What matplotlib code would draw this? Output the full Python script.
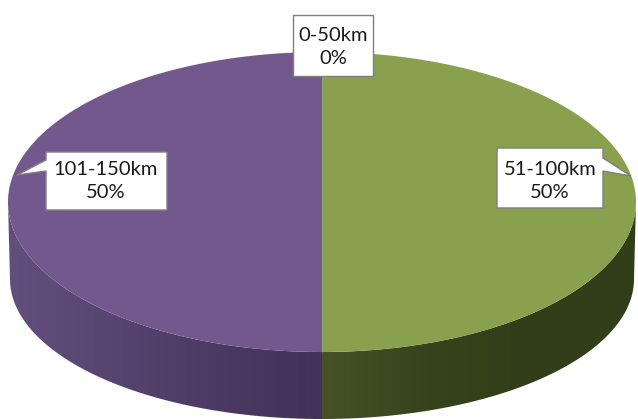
import numpy as np
import matplotlib
matplotlib.use("Agg")
import matplotlib.pyplot as plt
from matplotlib.patches import Polygon
from matplotlib.colors import to_rgb

# Distance bands and their counts
categories = ["0-50km", "51-100km", "101-150km"]
values = [0, 50, 50]

top_colors = ["#4f81bd", "#89a14e", "#72588c"]
# side gradient stops, left -> right
side_colors = [
    ["#3a5f8c", "#2c4a6e"],
    ["#465226", "#37431c", "#323e19", "#323e19"],
    ["#634f7d", "#574470", "#4b3a63", "#423258"],
]

W, H = 638, 419
fig = plt.figure(figsize=(W / 100, H / 100), dpi=100)
ax = fig.add_axes([0, 0, 1, 1])
ax.set_xlim(0, W)
ax.set_ylim(H, 0)
ax.axis("off")

# Ellipse geometry of the tilted disc (pixel units)
CX, CY, A, B = 322, 202, 314, 150          # top face
CY2, A2, B2 = 279, 312, 140                # bottom rim


def top_pt(t):
    t = np.radians(t)
    return CX + A * np.cos(t), CY - B * np.sin(t)


def bot_pt(t):
    t = np.radians(t)
    return CX + A2 * np.cos(t), CY2 - B2 * np.sin(t)


total = float(sum(values))
spans = []
start = 90.0
for v in values:
    end = start - 360.0 * v / total
    spans.append((end, start))
    start = end

# Side walls (front half only)
for (lo, hi), cols in zip(spans, side_colors):
    if hi - lo <= 0:
        continue
    for k in range(-2, 3):
        s0 = max(lo, 180 + 360 * k)
        s1 = min(hi, 360 + 360 * k)
        if s1 <= s0:
            continue
        ts = np.linspace(s0, s1, 200)
        tx, ty = top_pt(ts)
        bx, by = bot_pt(ts[::-1])
        xs = np.concatenate([tx, bx])
        ys = np.concatenate([ty, by])
        poly = Polygon(np.column_stack([xs, ys]), closed=True,
                       facecolor="none", edgecolor="none")
        ax.add_patch(poly)
        x0, x1 = xs.min(), xs.max()
        rgb = np.array([to_rgb(c) for c in cols])
        n = 256
        pos = np.linspace(0, 1, len(cols))
        u = np.linspace(0, 1, n)
        grad = np.stack([np.interp(u, pos, rgb[:, j]) for j in range(3)], axis=-1)
        im = ax.imshow(grad[np.newaxis, :, :], extent=(x0, x1, ys.max(), ys.min()),
                       aspect="auto", interpolation="bilinear", zorder=1)
        im.set_clip_path(poly)

# Top faces
for (lo, hi), col in zip(spans, top_colors):
    if hi - lo <= 0:
        continue
    ts = np.linspace(hi, lo, 400)
    tx, ty = top_pt(ts)
    pts = np.column_stack([np.r_[CX, tx], np.r_[CY, ty]])
    ax.add_patch(Polygon(pts, closed=True, facecolor=col, edgecolor="none", zorder=2))

# Faint seam where the two halves meet at the front
for (lo, hi) in spans:
    if hi - lo <= 0:
        continue
    px, py = top_pt(lo)
    ax.plot([CX, px], [CY, py], color="#b0b0a8", lw=0.5, alpha=0.35, zorder=3)

# Callout labels: box (x0, y0, x1, y1), pointer tip, pointer side
boxes = [
    (293, 15, 373, 76, None, None),
    (497, 148, 603, 208, (631, 176), "right"),
    (46, 152, 167, 210, (17, 175), "left"),
]
text_pos = [(333, 47), (550, 181), (106, 181)]

for cat, v, (x0, y0, x1, y1, tip, side), (tx, ty) in zip(categories, values, boxes, text_pos):
    if side == "left":
        pts = [(x0, y0), (x1, y0), (x1, y1), (x0, y1), (x0, 171), tip, (x0, 160)]
    elif side == "right":
        pts = [(x0, y0), (x1, y0), (x1, 158), tip, (x1, 171), (x1, y1), (x0, y1)]
    else:
        pts = [(x0, y0), (x1, y0), (x1, y1), (x0, y1)]
    ax.add_patch(Polygon(pts, closed=True, facecolor="white", edgecolor="#7f7f7f",
                         lw=1.0, zorder=5))
    pct = 100.0 * v / total
    ax.text(tx, ty, f"{cat}\n{pct:.0f}%", ha="center", va="center",
            fontsize=14.5, family=["Lato", "DejaVu Sans"], color="#1a1a1a",
            linespacing=1.45, zorder=6)

fig.savefig("out.png", dpi=100)
